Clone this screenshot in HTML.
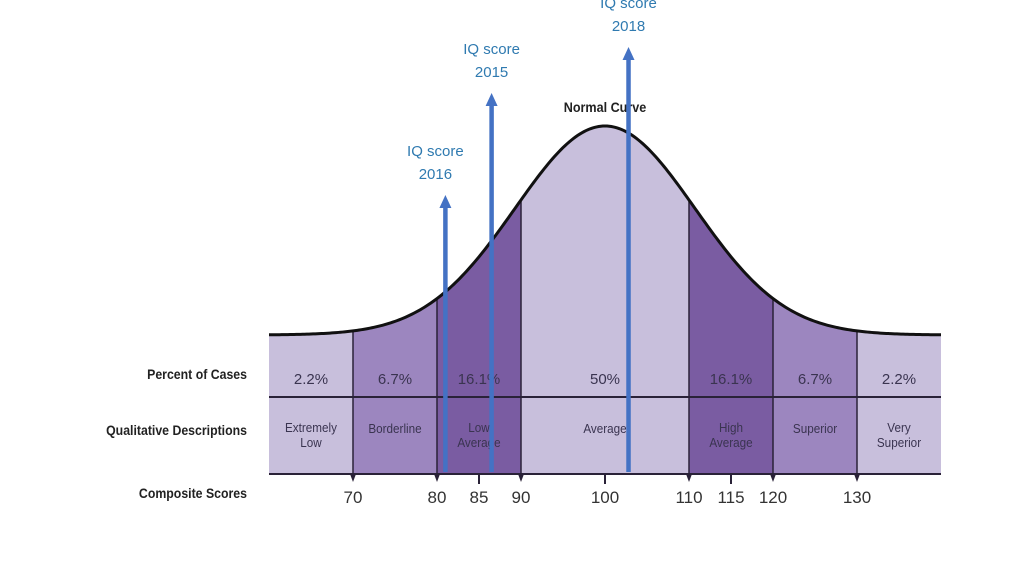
<!DOCTYPE html>
<html><head><meta charset="utf-8"><style>
html,body{margin:0;padding:0;background:#fff;width:1024px;height:576px;overflow:hidden}
svg text{font-family:"Liberation Sans",sans-serif}
</style></head><body>
<svg id="chart" width="1024" height="576" viewBox="0 0 1024 576" xmlns="http://www.w3.org/2000/svg"></svg>
<script>
const bandEdges=[60,70,80,90,110,120,130,140];
const bandPercents=["2.2%","6.7%","16.1%","50%","16.1%","6.7%","2.2%"];
const bandDescs=[["Extremely","Low"],["Borderline"],["Low","Average"],["Average"],["High","Average"],["Superior"],["Very","Superior"]];
const bandShade=[0,1,2,0,2,1,0];
const scoreTicks=[70,80,85,90,100,110,115,120,130];
const arrowScores=[81,86.5,102.8];
const arrowTopScores=[195,93,47];
const arrowYears=["2016","2015","2018"];
const curveMean=100, curveSd=10.7;

const svg=document.getElementById('chart');
const NS="http://www.w3.org/2000/svg";
const xS=s=>353+(s-70)*8.4;
const BASE=335, AMP=209, BOTTOM=474, MID=397;
const yC=s=>BASE-AMP*Math.exp(-((s-curveMean)**2)/(2*curveSd*curveSd));
const shades=["#c8bfdc","#9c86bf","#7a5ca2"];
function mk(tag,attrs,parent){const e=document.createElementNS(NS,tag);for(const k in attrs)e.setAttribute(k,attrs[k]);(parent||svg).appendChild(e);return e;}

for(let i=0;i<bandPercents.length;i++){
  const a=bandEdges[i],b=bandEdges[i+1];
  let d=`M${xS(a)},${BOTTOM}`;
  for(let s=a;s<=b+1e-9;s+=0.25)d+=` L${xS(s).toFixed(2)},${yC(s).toFixed(2)}`;
  d+=` L${xS(b)},${BOTTOM} Z`;
  const p=mk('path',{d,fill:shades[bandShade[i]]});
  
  
  const cx=(xS(a)+xS(b))/2;
  const t=mk('text',{x:cx,y:384,'text-anchor':'middle','font-size':15,fill:'#3a3450'});
  t.textContent=bandPercents[i];
  
  
  const lines=bandDescs[i];
  const y0=lines.length===1?433:432;
  lines.forEach((ln,j)=>{
    const tt=mk('text',{x:cx,y:y0+j*15,'text-anchor':'middle','font-size':13,fill:'#3a3450',transform:`translate(${cx},0) scale(0.9,1) translate(${-cx},0)`});
    tt.textContent=ln;
    
    
  });
}
// boundaries
for(let i=1;i<bandEdges.length-1;i++){
  const s=bandEdges[i];
  const l=mk('line',{x1:xS(s),x2:xS(s),y1:yC(s),y2:BOTTOM,stroke:'#2a2238','stroke-width':1.5});
  
  
}
let cd='';
for(let s=60;s<=140;s+=0.25)cd+=(s===60?'M':' L')+xS(s).toFixed(2)+','+yC(s).toFixed(2);
const curve=mk('path',{d:cd,fill:'none',stroke:'#111','stroke-width':3});


const h1=mk('line',{x1:269,x2:941,y1:MID,y2:MID,stroke:'#2a2238','stroke-width':2});


const h2=mk('line',{x1:269,x2:941,y1:BOTTOM,y2:BOTTOM,stroke:'#2a2238','stroke-width':2});



scoreTicks.forEach(s=>{
  const x=xS(s);
  if(bandEdges.includes(s)){
    const tr=mk('path',{d:`M${x-3},${BOTTOM} L${x+3},${BOTTOM} L${x},${BOTTOM+8} Z`,fill:'#2a2238'});
    
    
  }else{
    const tk=mk('line',{x1:x,x2:x,y1:BOTTOM,y2:BOTTOM+10,stroke:'#2a2238','stroke-width':2});
    
    
  }
  const t=mk('text',{x:x,y:503,'text-anchor':'middle','font-size':17,fill:'#333'});
  t.textContent=s;
  
  
});

[["Percent of Cases",379],["Qualitative Descriptions",435],["Composite Scores",498]].forEach(([txt,y])=>{
  const t=mk('text',{x:247,y:y,'text-anchor':'end','font-size':14,'font-weight':'bold',fill:'#222',transform:`translate(247,0) scale(0.88,1) translate(-247,0)`});
  t.textContent=txt;
  
  
});
const nc=mk('text',{x:605,y:112,'text-anchor':'middle','font-size':14,'font-weight':'bold',fill:'#222',transform:'translate(605,0) scale(0.9,1) translate(-605,0)'});
nc.textContent="Normal Curve";



arrowScores.forEach((s,i)=>{
  const x=xS(s), top=arrowTopScores[i];
  const sh=mk('line',{x1:x,x2:x,y1:top+10,y2:472,stroke:'#4472c4','stroke-width':4.5});
  
  
  const hd=mk('path',{d:`M${x-6},${top+13} L${x+6},${top+13} L${x},${top} Z`,fill:'#4472c4'});
  
  
  const t1=mk('text',{x:x-(i===0?10:0),y:top-39,'text-anchor':'middle','font-size':15,fill:'#2f7ab0'});
  t1.textContent="IQ score";
  
  
  const t2=mk('text',{x:x-(i===0?10:0),y:top-16,'text-anchor':'middle','font-size':15,fill:'#2f7ab0'});
  t2.textContent=arrowYears[i];
  
  
});
</script>
</body></html>
